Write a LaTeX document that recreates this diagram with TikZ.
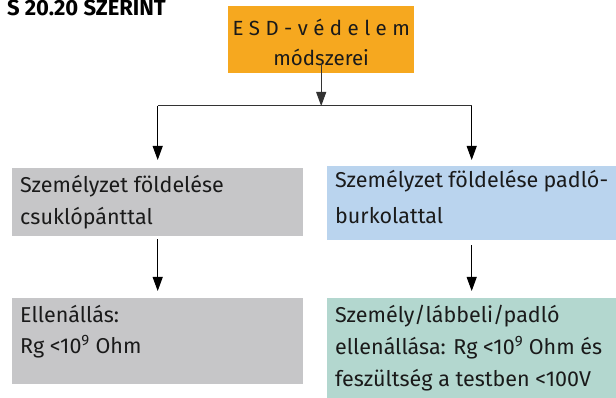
\documentclass[tikz,border=0pt]{standalone}
\usepackage{fontspec}
\setmainfont{Fira Sans}
\usetikzlibrary{arrows.meta,calc}
\definecolor{esdorange}{HTML}{F6A81F}
\definecolor{boxgray}{HTML}{C6C6C8}
\definecolor{boxblue}{HTML}{BAD4EE}
\definecolor{boxgreen}{HTML}{B3D7CF}
\definecolor{txtc}{HTML}{1A1A1A}
\newcommand\boxtxt[5]{\parbox[t][#1][t]{#2}{\fontsize{21.5}{#3}\selectfont\raggedright\rule{0pt}{#4}#5}}
\tikzset{
  boxst/.style={inner xsep=8pt, inner ysep=0pt, anchor=north west, text=txtc},
  conn/.style={line width=1pt, draw=black!80},
  arr/.style={line width=1pt, draw=black, -{Triangle[width=10pt,length=14pt]}}
}
\begin{document}
\begin{tikzpicture}[x=1pt,y=-1pt]
\useasboundingbox (0,0) rectangle (616,398);
\clip (0,0) rectangle (616,398);
\node[anchor=base east, inner sep=0pt, font=\fontsize{22}{26}\selectfont\bfseries] (title) at (166,16) {S 20.20 SZERINT};
\node[boxst, inner xsep=0pt, fill=esdorange, text=txtc] (esd) at (228,6)
  {\parbox[t][67pt][t]{186pt}{\centering\fontsize{20.5}{30}\selectfont\rule{0pt}{29pt}E S D - v é d e l e m\\módszerei}};
\node[boxst, fill=boxgray] (g1) at (12,168) {\boxtxt{68pt}{275pt}{32pt}{24pt}{Személyzet földelése\\csuklópánttal}};
\node[boxst, fill=boxblue] (b1) at (327,166) {\boxtxt{74pt}{273pt}{36pt}{21pt}{Személyzet földelése padló-\\burkolattal}};
\node[boxst, fill=boxgray] (g2) at (12,298) {\boxtxt{86pt}{275pt}{31pt}{24pt}{Ellenállás:\\Rg <10\textsuperscript{9} Ohm}};
\node[boxst, fill=boxgreen] (gr2) at (327,298) {\boxtxt{100pt}{273pt}{32pt}{24pt}{Személy/lábbeli/padló\\ellenállása: Rg <10\textsuperscript{9} Ohm és\\feszültség a testben <100V}};
\coordinate (top) at ([yshift=10pt]esd.south);
\coordinate (jl) at ($(g1.north)+(0,-62)$);
\coordinate (jr) at (b1.north |- jl);
\coordinate (jn) at (top |- jl);
\draw[conn, -{Triangle[width=10pt,length=14pt]}] (top) -- (jn);
\draw[conn] (jl) -- (jr);
\draw[arr, shorten >=8pt] (jl) -- (g1.north);
\draw[arr, shorten >=6pt] (jr) -- (b1.north);
\draw[arr, shorten <=3pt, shorten >=7pt] (g1.south) -- (g2.north);
\draw[arr, shorten <=5pt, shorten >=7pt] (b1.south) -- (gr2.north);
\end{tikzpicture}
\end{document}
